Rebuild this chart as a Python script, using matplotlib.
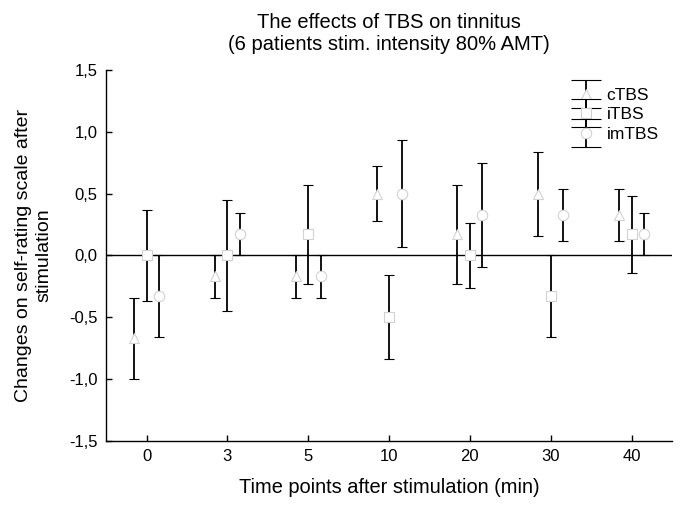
import matplotlib
matplotlib.use("Agg")
import matplotlib.pyplot as plt
import numpy as np
from matplotlib.legend_handler import HandlerErrorbar
from matplotlib.ticker import FuncFormatter

plt.rcParams["font.family"] = ["Liberation Sans", "DejaVu Sans"]

time_points = ["0", "3", "5", "10", "20", "30", "40"]

ctbs_mean = [-0.67, -0.17, -0.17, 0.50, 0.17, 0.50, 0.33]
ctbs_err = [0.33, 0.17, 0.17, 0.22, 0.40, 0.34, 0.21]

itbs_mean = [0.00, 0.00, 0.17, -0.50, 0.00, -0.33, 0.17]
itbs_err = [0.37, 0.45, 0.40, 0.34, 0.26, 0.33, 0.31]

imtbs_mean = [-0.33, 0.17, -0.17, 0.50, 0.33, 0.33, 0.17]
imtbs_err = [0.33, 0.17, 0.17, 0.43, 0.42, 0.21, 0.17]


class WideCapHandler(HandlerErrorbar):
    # make the caps in the legend wider, like the original figure
    def create_artists(self, *args, **kwargs):
        artists = super().create_artists(*args, **kwargs)
        for a in artists:
            if hasattr(a, "get_marker") and a.get_marker() == "_":
                a.set_markersize(21)
        return artists


def main():
    fig = plt.figure(figsize=(6.85, 5.14), dpi=100)
    ax = fig.add_axes([0.155, 0.142, 0.826, 0.722])

    x = np.arange(len(time_points))
    off = 0.155
    series = [
        ("cTBS", ctbs_mean, ctbs_err, "^", -off),
        ("iTBS", itbs_mean, itbs_err, "s", 0.0),
        ("imTBS", imtbs_mean, imtbs_err, "o", off),
    ]

    ax.axhline(0, color="black", lw=1.0, zorder=1)

    handles = []
    for name, m, e, mk, dx in series:
        h = ax.errorbar(x + dx, m, yerr=e, fmt=mk, color="black", ecolor="black",
                        elinewidth=1.3, capsize=3.6, capthick=1.3,
                        markersize=7.5, markerfacecolor="white",
                        markeredgecolor="#d2d2d2", markeredgewidth=0.8,
                        label=name, zorder=3)
        handles.append(h)

    ax.set_xlim(-0.5, 6.5)
    ax.set_ylim(-1.5, 1.5)
    ax.set_xticks(x)
    ax.set_xticklabels(time_points)
    ax.set_yticks(np.arange(-1.5, 1.51, 0.5))
    ax.yaxis.set_major_formatter(FuncFormatter(lambda v, p: f"{v:.1f}".replace(".", ",")))
    ax.tick_params(direction="in", length=4, width=1, labelsize=12, pad=6)

    for s in ["top", "right"]:
        ax.spines[s].set_visible(False)
    for s in ["left", "bottom"]:
        ax.spines[s].set_linewidth(1.0)

    ax.set_xlabel("Time points after stimulation (min)", fontsize=14.4, labelpad=10)
    ax.set_ylabel("Changes on self-rating scale after\nstimulation", fontsize=14,
                  labelpad=12, linespacing=1.3)
    ax.set_title("The effects of TBS on tinnitus\n(6 patients stim. intensity 80% AMT)",
                 fontsize=14.5, pad=14, linespacing=1.2)

    ax.legend(handles=handles, loc="upper right", bbox_to_anchor=(0.995, 0.98),
              frameon=False, fontsize=12.5, handlelength=1.6, handletextpad=0.4,
              labelspacing=0.25, borderaxespad=0.2,
              handler_map={type(handles[0]): WideCapHandler(yerr_size=0.8)})

    fig.savefig("out.png", dpi=100)


if __name__ == "__main__":
    main()
